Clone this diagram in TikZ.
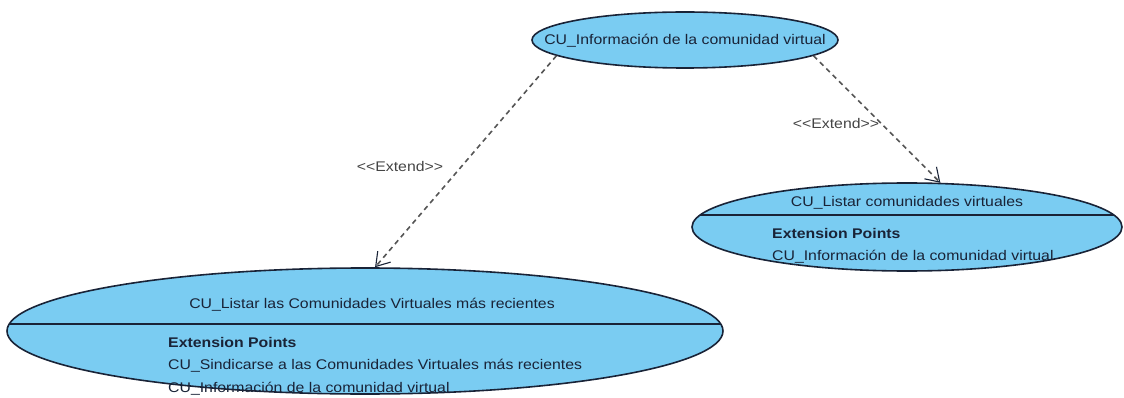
\documentclass[tikz,border=0pt]{standalone}
\usepackage{fontspec}
\setmainfont{Liberation Sans}[FakeStretch=1.13]
\usetikzlibrary{shapes.geometric, arrows.meta, positioning}
\definecolor{casefill}{RGB}{122, 204, 242}
\definecolor{caseline}{RGB}{25, 35, 55}
\definecolor{dashgray}{RGB}{85, 85, 85}

\begin{document}
\begin{tikzpicture}[
    x=1pt, y=-1pt,
    every node/.style={font=\fontsize{14}{16}\selectfont, inner sep=0pt},
    usecase/.style={ellipse, draw=caseline, fill=casefill, line width=1.6pt},
    splitcase/.style={path picture={
        \draw[caseline, line width=1.6pt]
            ([yshift=#1]path picture bounding box.west) --
            ([yshift=#1]path picture bounding box.east);}},
    casetext/.style={anchor=base, text=caseline},
    pointtext/.style={anchor=base west, text=caseline},
    extendarrow/.style={dash pattern=on 5pt off 4pt, line width=1.6pt, color=dashgray,
                        -{Straight Barb[length=13pt, width=17pt, color=caseline, line width=1.1pt]}},
    stereo/.style={anchor=base, text=dashgray!80!black}
]
\useasboundingbox (0,0) rectangle (1124,398);

% Top use case
\node[usecase, minimum width=306pt, minimum height=56pt] (cuinfo) at (685,40) {};
\node[casetext] (cuinfotxt) at (685,45) {CU\_Información de la comunidad virtual};

% Right use case
\node[usecase, splitcase=12pt, minimum width=430pt, minimum height=88pt] (culistar) at (907,227) {};
\node[casetext] (culistartxt) at (907,207) {CU\_Listar comunidades virtuales};
\node[pointtext] (culistarext) at (772,238) {\textbf{Extension Points}};
\node[pointtext] (culistarp1) at (772,260) {CU\_Información de la comunidad virtual};

% Bottom use case
\node[usecase, splitcase=7pt, minimum width=716pt, minimum height=126pt] (curecientes) at (365,331) {};
\node[casetext] (curecientestxt) at (372,308) {CU\_Listar las Comunidades Virtuales más recientes};
\node[pointtext] (curecientesext) at (168,347) {\textbf{Extension Points}};
\node[pointtext] (curecientesp1) at (168,369.5) {CU\_Sindicarse a las Comunidades Virtuales más recientes};
\node[pointtext] (curecientesp2) at (168,392) {CU\_Información de la comunidad virtual};

% Stereotypes
\node[stereo] (extleft) at (400,172) {<{}<Extend>{}>};
\node[stereo] (extright) at (836,129) {<{}<Extend>{}>};

% Extend arrows
\draw[extendarrow] (cuinfo.187) -- (curecientes.81);
\draw[extendarrow] (cuinfo.-7) -- (culistar.53);

\end{tikzpicture}
\end{document}
